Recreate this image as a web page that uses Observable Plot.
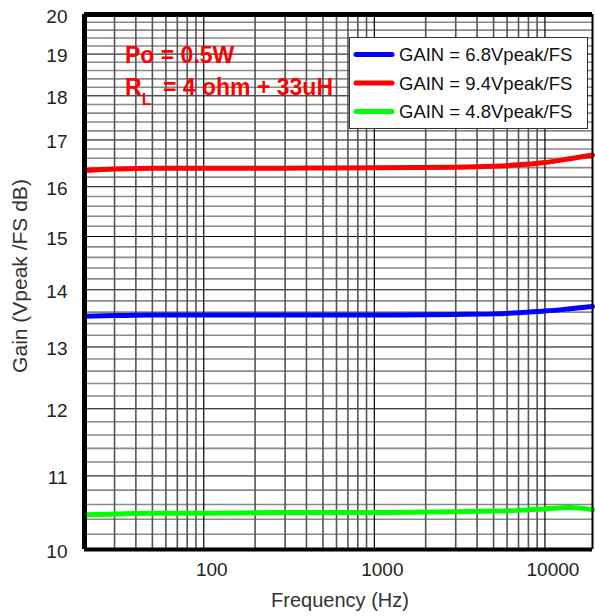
<!DOCTYPE html>
<html>
<head>
<meta charset="utf-8">
<script src="https://cdn.jsdelivr.net/npm/d3@7"></script>
<script src="https://cdn.jsdelivr.net/npm/@observablehq/plot@0.6"></script>
<style>
  html, body { margin: 0; padding: 0; background: #fff; }
  #wrap { position: relative; width: 595px; height: 616px; font-family: "Liberation Sans", Arial, sans-serif; }
  #wrap svg { position: absolute; left: 0; top: 0; }
</style>
</head>
<body>
<div id="wrap"></div>
<script>
// Frequency samples (Hz)
const freqs = [20, 30, 50, 100, 300, 1000, 3000, 5000, 7000, 10000, 14000, 19000];
// Gain (Vpeak/FS dB) per series
const gain68 = [13.53, 13.54, 13.55, 13.55, 13.55, 13.55, 13.56, 13.57, 13.59, 13.62, 13.66, 13.70];
const gain94 = [16.34, 16.37, 16.39, 16.39, 16.39, 16.40, 16.41, 16.43, 16.46, 16.51, 16.59, 16.67];
const gain48 = [10.46, 10.47, 10.48, 10.48, 10.49, 10.49, 10.50, 10.51, 10.52, 10.54, 10.56, 10.53];
const seriesNames = ["GAIN = 6.8Vpeak/FS", "GAIN = 9.4Vpeak/FS", "GAIN = 4.8Vpeak/FS"];
const seriesColors = ["#0000ff", "#ff0000", "#00ff00"];
const xTicks = [100, 1000, 10000];
const yTicks = [10, 11, 12, 13, 14, 15, 16, 17, 18, 19, 20];

const data = [];
[gain68, gain94, gain48].forEach((arr, k) => {
  arr.forEach((g, i) => data.push({f: freqs[i], g, s: seriesNames[k]}));
});

const xMinor = [];
[10, 100, 1000].forEach(d => { for (let m = 2; m <= 9; m++) { const v = d * m; if (v > 20 && v < 19000) xMinor.push(v); } });
const yMinor = d3.range(10.2, 20, 0.2).filter(v => Math.abs(v - Math.round(v)) > 0.01);
const yMajor = d3.range(11, 20, 1);

const chart = Plot.plot({
  width: 595,
  height: 616,
  marginLeft: 84,
  marginRight: 3,
  marginTop: 14,
  marginBottom: 67,
  x: {type: "log", domain: [20, 19000]},
  y: {type: "log", domain: [10, 20]},
  color: {domain: seriesNames, range: seriesColors},
  style: {fontFamily: "Liberation Sans, Arial, sans-serif", fontSize: "19px", color: "#222", background: "transparent"},
  marks: [
    Plot.ruleY(yMinor, {stroke: "#8a8a8a", strokeWidth: 1.6}),
    Plot.ruleY(yMajor, {stroke: "#000", strokeWidth: 1}),
    Plot.ruleX(xMinor, {stroke: "#555", strokeWidth: 1.6}),
    Plot.ruleX(xTicks, {stroke: "#000", strokeWidth: 1.2}),
    Plot.line(data, {x: "f", y: "g", z: "s", stroke: "s", strokeWidth: 5, curve: "monotone-x"}),
    Plot.ruleX([20], {stroke: "#000", strokeWidth: 5}),
    Plot.ruleX([19000], {stroke: "#000", strokeWidth: 2}),
    Plot.ruleY([10], {stroke: "#000", strokeWidth: 4}),
    Plot.ruleY([20], {stroke: "#000", strokeWidth: 5}),
    Plot.axisX(xTicks, {tickSize: 0, tickPadding: 13, dx: 8, tickFormat: d => String(d), label: null, fontSize: 19}),
    Plot.axisY(yTicks, {tickSize: 0, tickPadding: 17, dy: 2, tickFormat: d => String(d), label: null, fontSize: 19})
  ]
});
document.getElementById("wrap").appendChild(chart);

// Overlay: annotations, legend, axis titles
const ov = d3.select("#wrap").append("svg").attr("width", 595).attr("height", 616)
  .style("font-family", "Liberation Sans, Arial, sans-serif");

ov.append("text").attr("x", 125).attr("y", 63).attr("fill", "#ff0000")
  .attr("font-weight", "bold").attr("font-size", 23).text("Po = 0.5W");
const t2 = ov.append("text").attr("y", 95).attr("fill", "#ff0000").attr("font-weight", "bold").attr("font-size", 23);
t2.append("tspan").attr("x", 125).text("R");
t2.append("tspan").attr("font-size", 16).attr("dy", 10).text("L");
t2.append("tspan").attr("x", 163).attr("y", 95).text("= 4 ohm + 33uH");

const lg = ov.append("g");
lg.append("rect").attr("x", 349.5).attr("y", 37.5).attr("width", 238).attr("height", 91)
  .attr("fill", "#fff").attr("stroke", "#333").attr("stroke-width", 1);
const rows = [54.5, 83, 111.5];
seriesNames.forEach((n, i) => {
  lg.append("line").attr("x1", 356).attr("x2", 392).attr("y1", rows[i]).attr("y2", rows[i])
    .attr("stroke", seriesColors[i]).attr("stroke-width", 5).attr("stroke-linecap", "round");
  lg.append("text").attr("x", 399).attr("y", rows[i] + 6.8).attr("font-size", 18.5).attr("fill", "#111").text(n);
});

ov.append("text").attr("x", 340).attr("y", 607).attr("text-anchor", "middle")
  .attr("font-size", 20).attr("fill", "#333").text("Frequency (Hz)");
ov.append("text").attr("transform", "translate(27,276) rotate(-90)").attr("text-anchor", "middle")
  .attr("font-size", 21).attr("fill", "#333").text("Gain (Vpeak /FS dB)");
</script>
</body>
</html>
